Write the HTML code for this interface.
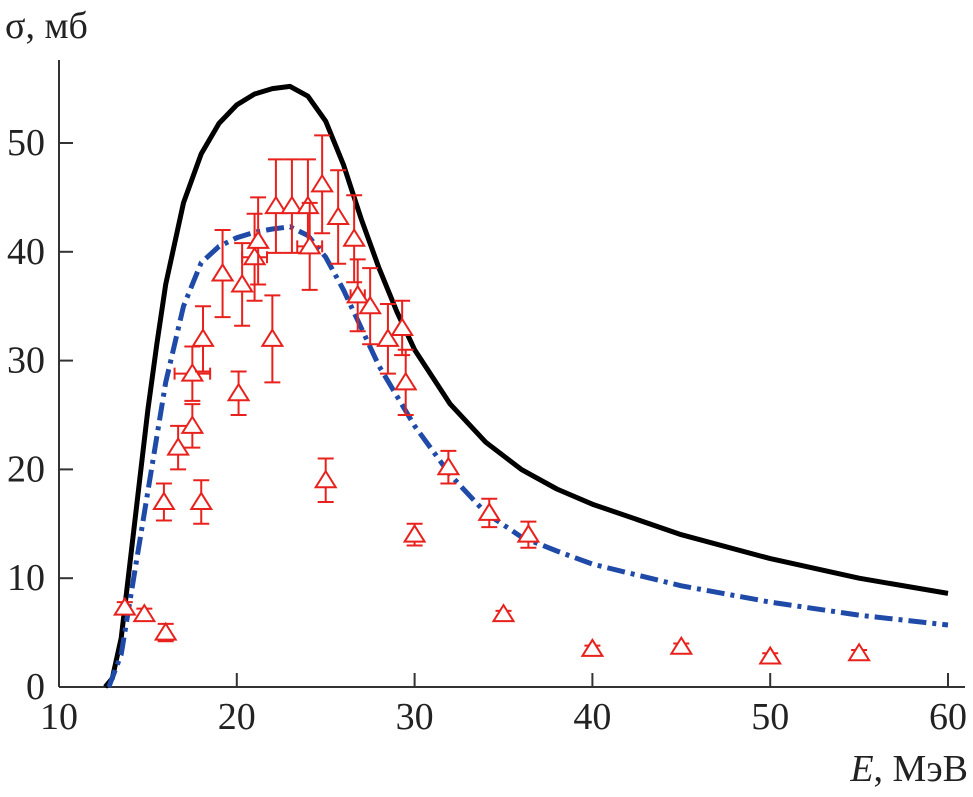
<!DOCTYPE html>
<html><head><meta charset="utf-8"><style>
html,body{margin:0;padding:0;background:#fff;}
svg{display:block;}
text{font-family:"Liberation Serif",serif;fill:#222;}
</style></head><body>
<svg id="chart" width="973" height="797"></svg>
<script>
const xTicks=[10,20,30,40,50,60];
const yTicks=[0,10,20,30,40,50];
const blackE=[12.6,13,13.5,14,14.5,15,15.5,16,17,18,19,20,21,22,23,24,25,26,27,28,29,30,32,34,36,38,40,45,50,55,60];
const blackS=[0,0.8,4.5,11.5,18.5,25.5,31.5,37,44.5,49,51.8,53.5,54.5,55,55.2,54.3,52,48,43,38.5,34.5,31,26,22.5,20,18.2,16.8,14,11.8,10,8.6];
const blueE=[12.8,13.5,14,15,16,17,18,19,20,21,22,23,24,25,26,27,28,30,32,34,36,38,40,45,50,55,60];
const blueS=[0,3,8,18,28,35,39,40.5,41.3,41.8,42.1,42.3,41.5,39.5,36.5,33,29.5,24,19.5,16,13.8,12.5,11.3,9.3,7.8,6.6,5.7];
const expE=[13.7,14.8,16,15.9,16.7,17.5,17.5,18,18.1,19.2,20.1,20.3,21,21.2,22,22.2,23.1,24,24.1,24.8,25,25.7,26.6,26.8,27.5,28.5,29.3,29.5,30,31.9,34.2,35,36.4,40,45,50,55];
const expS=[7.3,6.7,5,17,22,24,28.8,17,32,38,27,37,39.5,41,32,44.2,44.2,44.2,40.5,46.2,19,43.2,41.2,36,35,32,33,28,14,20.2,16,6.7,14,3.5,3.7,2.8,3.1];
const expErr=[0.5,0.5,0.8,1.7,2,2,2.5,2,3,4,2,3.8,4,4,4,4.3,4.3,4.3,4,4.5,2,4.3,4,3.3,3.5,3.2,2.5,3,1,1.5,1.3,0.3,1.2,0.3,0.3,0.3,0.3];
const expXErr=[0,0,0,0,0,0,1,0,0,0,0,0,0.7,0,0,0,0,0,0.7,0,0,0,0,0.4,0,0,0,0,0,0,0,0,0,0,0,0,0];

const NS="http://www.w3.org/2000/svg";
const svg=document.getElementById('chart');
const X0=59,X1=948,Y0=687,Y50=143;
function sx(v){return X0+(v-10)*(X1-X0)/50;}
function sy(v){return Y0-v*(Y0-Y50)/50;}
function mk(tag,attrs,parent){const e=document.createElementNS(NS,tag);for(const k in attrs)e.setAttribute(k,attrs[k]);(parent||svg).appendChild(e);return e;}

const axes=mk('g',{});


const xl=mk('line',{x1:X0,y1:Y0,x2:965,y2:Y0,stroke:'#333','stroke-width':2},axes);


const yl=mk('line',{x1:X0,y1:60,x2:X0,y2:Y0,stroke:'#333','stroke-width':2},axes);


xTicks.forEach(t=>{
  const l=mk('line',{x1:sx(t),y1:Y0,x2:sx(t),y2:Y0-14,stroke:'#333','stroke-width':2},axes);
  
  
  const tx=mk('text',{x:sx(t),y:Y0+42,'text-anchor':'middle','font-size':38},axes);
  tx.textContent=t;
  
  
});
yTicks.forEach(t=>{
  const l=mk('line',{x1:X0,y1:sy(t),x2:X0+14,y2:sy(t),stroke:'#333','stroke-width':2},axes);
  
  
  const tx=mk('text',{x:45,y:sy(t)+12,'text-anchor':'end','font-size':38},axes);
  tx.textContent=t;
  
  
});
const yt=mk('text',{x:5,y:38,'font-size':38});
yt.textContent='σ, мб';


const xt=mk('text',{x:968,y:781,'text-anchor':'end','font-size':38});
xt.innerHTML='<tspan font-style="italic">E</tspan>, МэВ';



function path(E,S){return E.map((e,i)=>(i?'L':'M')+sx(e).toFixed(1)+','+sy(S[i]).toFixed(1)).join(' ');}
const bl=mk('path',{d:path(blackE,blackS),fill:'none',stroke:'#000','stroke-width':5,'stroke-linejoin':'round'});


const bu=mk('path',{d:path(blueE,blueS),fill:'none',stroke:'#1f4aa8','stroke-width':5,'stroke-dasharray':'18,6,4,6'});



const pts=mk('g',{stroke:'#e8211c','stroke-width':2,fill:'none'});


expE.forEach((e,i)=>{
  const g=mk('g',{},pts);
  
  
  const x=sx(e),y=sy(expS[i]),y1=sy(expS[i]+expErr[i]),y2=sy(expS[i]-expErr[i]);
  mk('line',{x1:x,y1:y1,x2:x,y2:y2},g);
  mk('line',{x1:x-8,y1:y1,x2:x+8,y2:y1},g);
  mk('line',{x1:x-8,y1:y2,x2:x+8,y2:y2},g);
  if(expXErr[i]>0){
    const xa=sx(e-expXErr[i]),xb=sx(e+expXErr[i]);
    mk('line',{x1:xa,y1:y,x2:xb,y2:y},g);
    mk('line',{x1:xa,y1:y-6,x2:xa,y2:y+6},g);
    mk('line',{x1:xb,y1:y-6,x2:xb,y2:y+6},g);
  }
  mk('polygon',{points:`${x},${y-9} ${x-10},${y+7} ${x+10},${y+7}`,fill:'#fff'},g);
});
</script>
</body></html>
